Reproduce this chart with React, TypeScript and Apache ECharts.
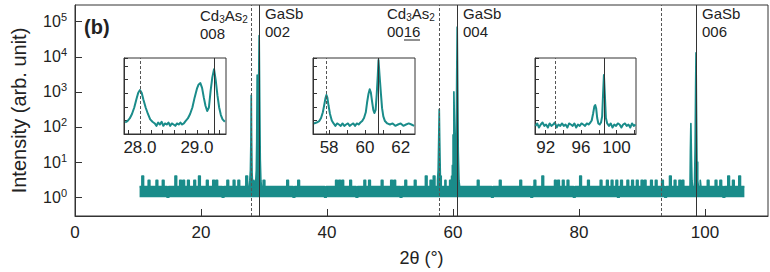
import React, { useEffect, useRef } from "react";
import * as echarts from "echarts";

const FONT = "Liberation Sans, Arial, Helvetica, sans-serif";
const TEAL = "#1a8c8a";
const INK = "#222";

// Reference line positions (2θ, degrees)
const cd3as2Lines = [28.0, 57.85, 93.05];
const gasbLines = [29.3, 60.75, 98.6];

// Main scan: uniformly stepped baseline segments (counts) + peak regions ([2θ, counts])
const SCAN_STEP = 0.25;
const segAStart = 10.25;
const segA = [2,2,4,2,2,2,3,2,2,2, 2,3,2,2,2,3,2,2,1,2, 2,2,2,4,2,2,3,2,3,2, 2,3,2,2,2,3,2,2,4,2, 2,2,2,3,2,2,2,3,2,3, 2,2,2,1,2,2,3,2,2,2, 3,2,2,3,2,2,2,2,4,2];
const peak1 = [[27.6,2],[27.7,2],[27.8,3],[27.9,6],[27.95,40],[28.0,800],[28.05,60],[28.15,5],[28.25,2],[28.35,2],[28.45,3],[28.55,2],[28.65,2],[28.75,3],[28.82,6],[28.88,40],[28.95,3000],[29.02,150],[29.1,30],[29.18,900],[29.28,40000],[29.36,500],[29.45,12],[29.55,3],[29.65,2]];
const segBStart = 29.75;
const segB = [2,3,2,2,2,2,2,2,2,2, 2,2,2,2,2,2,3,2,2,2, 1,2,2,3,2,2,2,2,2,2, 2,2,2,2,2,2,2,2,2,2, 1,2,2,2,2,2,2,3,2,3, 2,3,2,2,2,2,3,2,2,2, 1,2,2,2,2,3,2,2,3,2, 2,2,2,2,2,2,3,2,2,2, 2,2,3,2,3,2,2,2,1,2, 2,3,2,2,2,2,2,3,2,2, 2,2,2,2,4,2,2,3,2,4, 2];
const peak2 = [[57.4,2],[57.5,2],[57.6,3],[57.7,6],[57.78,50],[57.85,320],[57.93,40],[58.05,4],[58.2,2],[58.35,2],[58.5,2],[58.65,2],[58.8,3],[58.95,2],[59.1,2],[59.25,2],[59.4,2],[59.55,3],[59.7,2],[59.85,4],[59.95,8],[60.08,60],[60.2,1000],[60.3,80],[60.4,6],[60.48,4],[60.56,30],[60.63,3000],[60.7,70000],[60.78,2000],[60.88,20],[61.0,3],[61.1,2]];
const segCStart = 61.25;
const segC = [2,2,2,2,2,2,2,2,2,2, 2,3,2,2,2,2,2,2,2,2, 1,2,2,2,2,3,2,2,2,2, 2,2,2,2,2,2,2,2,3,2, 2,2,2,2,2,1,2,3,2,2, 2,2,4,2,2,2,2,2,2,2, 3,2,3,2,2,3,2,2,3,2, 2,2,1,2,2,2,4,2,2,2, 2,3,2,2,2,2,2,2,2,3, 2,2,2,3,2,2,3,2,2,3, 1,2,3,2,2,2,3,2,2,3, 2,2,3,2,2,3,2,3,2,2, 2,3,2,2,3,2,2,2,3,2, 1,2,2,4,2,2,3,2,2,3, 2,3,2,2,2,2];
const peak3 = [[97.6,2],[97.65,2],[97.72,20],[97.8,125],[97.88,15],[97.98,3],[98.1,2],[98.2,2],[98.3,2],[98.4,3],[98.48,30],[98.55,1200],[98.6,13000],[98.67,500],[98.78,10],[98.9,3],[99.0,2],[99.1,2],[99.2,2],[99.3,3],[99.4,2]];
const segDStart = 99.5;
const segD = [2,2,2,2,3,2,2,2,2,3, 2,2,3,2,1,2,2,4,2,2, 3,2,2,2,4,2,2,2];

// Insets ([2θ, counts])
const inset1 = [[27.74,7],[27.78,9],[27.82,14],[27.86,30],[27.9,90],[27.94,400],[27.97,1100],[28.0,1700],[28.03,1100],[28.06,350],[28.1,90],[28.14,30],[28.18,12],[28.22,8],[28.26,6],[28.29,4],[28.32,7],[28.35,5],[28.38,8],[28.41,4],[28.44,6],[28.47,5],[28.5,7],[28.53,4],[28.56,6],[28.59,5],[28.62,4],[28.65,6],[28.68,5],[28.71,7],[28.74,5],[28.77,6],[28.8,9],[28.84,14],[28.88,30],[28.92,90],[28.96,500],[29.0,2200],[29.03,4500],[29.06,5600],[29.09,2500],[29.12,500],[29.15,120],[29.18,50],[29.21,90],[29.24,1500],[29.27,15000],[29.3,60000],[29.33,9000],[29.36,700],[29.39,90],[29.42,25],[29.45,12],[29.49,8]];
const inset2 = [[57.15,6],[57.3,7],[57.45,9],[57.55,15],[57.65,40],[57.72,120],[57.8,450],[57.85,740],[57.9,500],[57.97,120],[58.05,30],[58.15,10],[58.25,6],[58.35,4],[58.45,6],[58.55,5],[58.65,4],[58.75,6],[58.85,4],[58.95,5],[59.05,6],[59.15,4],[59.25,5],[59.35,6],[59.45,4],[59.55,6],[59.65,5],[59.75,7],[59.85,9],[59.95,15],[60.05,40],[60.12,200],[60.2,900],[60.27,2000],[60.33,1200],[60.4,250],[60.47,60],[60.53,35],[60.6,60],[60.66,800],[60.72,20000],[60.76,280000],[60.82,20000],[60.9,800],[60.96,80],[61.03,20],[61.12,9],[61.25,6],[61.4,5],[61.55,6],[61.7,4],[61.85,5],[62.0,6],[62.15,4],[62.3,5],[62.45,6],[62.6,5],[62.75,4]];
const inset3 = [[90.85,4],[91.05,6],[91.25,3],[91.45,5],[91.65,7],[91.85,4],[92.05,5],[92.25,3],[92.45,6],[92.65,4],[92.85,5],[93.05,7],[93.25,3],[93.45,5],[93.65,4],[93.85,6],[94.05,4],[94.25,5],[94.45,3],[94.65,6],[94.85,5],[95.05,4],[95.25,6],[95.45,3],[95.65,5],[95.85,4],[96.05,6],[96.25,5],[96.45,4],[96.65,6],[96.85,5],[97.05,7],[97.2,10],[97.35,30],[97.5,110],[97.6,135],[97.7,80],[97.82,15],[97.95,6],[98.1,5],[98.25,7],[98.38,20],[98.48,800],[98.58,22000],[98.68,900],[98.8,15],[98.95,6],[99.15,4],[99.35,6],[99.55,3],[99.75,5],[99.95,4],[100.15,6],[100.35,5],[100.55,3],[100.75,5],[100.95,6],[101.15,4],[101.35,5],[101.55,3],[101.75,6],[101.95,4],[102.15,5]];

const inset1Range = [27.72, 29.51];
const inset2Range = [57.1, 62.8];
const inset3Range = [90.8, 102.2];
const inset1Ticks = [27.8, 28.0, 28.2, 28.4, 28.6, 28.8, 29.0, 29.2, 29.4];
const inset2Ticks = [58, 59, 60, 61, 62];
const inset3Ticks = [92, 94, 96, 98, 100, 102];
const inset1Labels = [28, 29];
const inset2Labels = [58, 60, 62];
const inset3Labels = [92, 96, 100];

// lowest count level of the scan (band floor)
const COUNT_FLOOR = 1;

function seg(start: number, counts: number[]) {
  return counts.map((c, i) => [+(start + i * SCAN_STEP).toFixed(3), c]);
}

function refLines(range?: number[]) {
  const inR = (x: number) => !range || (x > range[0] && x < range[1]);
  return {
    silent: true,
    symbol: ["none", "none"],
    label: { show: false },
    emphasis: { disabled: true },
    data: [
      ...cd3as2Lines.filter(inR).map((x) => ({ xAxis: x, lineStyle: { type: [3, 2], color: "#555", width: 1 } })),
      ...gasbLines.filter(inR).map((x) => ({ xAxis: x, lineStyle: { type: "solid", color: "#333", width: 1 } })),
    ],
  };
}

const RICH_ANN = {
  n: { fontSize: 15, lineHeight: 18, fontFamily: FONT, fill: INK },
  s: { fontSize: 10, lineHeight: 10, fontFamily: FONT, fill: INK, verticalAlign: "bottom" },
};

function annot(left: number, top: number, text: string) {
  return { type: "text", left, top, silent: true, style: { text, rich: RICH_ANN, fill: INK, fontSize: 15, fontFamily: FONT } };
}

export default function App() {
  const ref = useRef<HTMLDivElement>(null);
  useEffect(() => {
    if (!ref.current) return;
    const chart = echarts.init(ref.current, null, { renderer: "svg" });
    const mainData = [
      ...seg(segAStart, segA), ...peak1,
      ...seg(segBStart, segB), ...peak2,
      ...seg(segCStart, segC), ...peak3,
      ...seg(segDStart, segD),
    ];
    const axisLineStyle = { color: "#333", width: 1 };
    const insetX = (gridIndex: number, range: number[], ticks: number[], labels: number[], dec: number) => ({
      gridIndex, type: "value", min: range[0], max: range[1],
      axisLine: { show: true, lineStyle: axisLineStyle },
      axisTick: { show: true, inside: true, length: 4, lineStyle: axisLineStyle, customValues: ticks },
      axisLabel: { show: true, customValues: labels, formatter: (v: number) => v.toFixed(dec), fontSize: 17, color: INK, fontFamily: FONT, margin: 5 },
      splitLine: { show: false },
    });
    const insetY = (gridIndex: number) => ({
      gridIndex, type: "log", logBase: 10, min: 1, max: 4e5,
      axisLine: { show: true, lineStyle: axisLineStyle },
      axisTick: { show: true, inside: true, length: 4, lineStyle: axisLineStyle },
      axisLabel: { show: false },
      splitLine: { show: false },
    });
    const lineSeries = (idx: number, data: number[][], width: number, range?: number[]) => ({
      type: "line", xAxisIndex: idx, yAxisIndex: idx, data,
      symbol: "none", showSymbol: false, silent: true,
      lineStyle: { color: TEAL, width, join: "round" },
      markLine: refLines(range), z: 3,
    });
    chart.setOption({
      animation: false,
      backgroundColor: "#fff",
      textStyle: { fontFamily: FONT },
      grid: [
        { left: 75, right: 2, top: 5, bottom: 54, show: true, borderColor: "#333", borderWidth: 1 },
        { left: 124, top: 58, width: 102, height: 76, show: true, borderColor: "#333", borderWidth: 1 },
        { left: 313, top: 58, width: 102, height: 76, show: true, borderColor: "#333", borderWidth: 1 },
        { left: 535, top: 58, width: 101, height: 76, show: true, borderColor: "#333", borderWidth: 1 },
      ],
      xAxis: [
        {
          gridIndex: 0, type: "value", min: 0, max: 110, interval: 20,
          axisLine: { show: true, lineStyle: axisLineStyle },
          axisTick: { show: true, inside: true, length: 7, lineStyle: axisLineStyle },
          axisLabel: { fontSize: 17, color: INK, fontFamily: FONT, margin: 8, showMaxLabel: false },
          splitLine: { show: false },
          name: "2θ (°)", nameLocation: "middle", nameGap: 33,
          nameTextStyle: { fontSize: 18, color: INK, fontFamily: FONT },
        },
        insetX(1, inset1Range, inset1Ticks, inset1Labels, 1),
        insetX(2, inset2Range, inset2Ticks, inset2Labels, 0),
        insetX(3, inset3Range, inset3Ticks, inset3Labels, 0),
      ],
      yAxis: [
        {
          gridIndex: 0, type: "log", logBase: 10, min: 0.29, max: 3e5,
          axisLine: { show: true, lineStyle: axisLineStyle },
          axisTick: { show: true, inside: true, length: 7, lineStyle: axisLineStyle },
          axisLabel: {
            margin: 8, showMinLabel: false, showMaxLabel: false,
            formatter: (v: number) => `{b|10}{s|${Math.round(Math.log10(v))}}`,
            rich: {
              b: { fontSize: 16, lineHeight: 20, color: INK, fontFamily: FONT },
              s: { fontSize: 11, lineHeight: 8, verticalAlign: "top", color: INK, fontFamily: FONT },
            },
          },
          splitLine: { show: false },
          name: "Intensity (arb. unit)", nameLocation: "middle", nameGap: 46,
          nameTextStyle: { fontSize: 20, color: INK, fontFamily: FONT },
        },
        insetY(1), insetY(2), insetY(3),
      ],
      series: [
        { ...lineSeries(0, mainData, 1.7), step: "middle", areaStyle: { origin: COUNT_FLOOR, color: TEAL, opacity: 1 } },
        lineSeries(1, inset1, 2, inset1Range),
        lineSeries(2, inset2, 2, inset2Range),
        lineSeries(3, inset3, 2, inset3Range),
      ],
      graphic: [
        { type: "text", left: 84, top: 17, silent: true, style: { text: "(b)", fontSize: 20, fontWeight: "bold", fontFamily: FONT, fill: INK } },
        annot(200, 8, "{n|Cd}{s|3}{n|As}{s|2}\n{n|008}"),
        annot(265, 6, "{n|GaSb}\n{n|002}"),
        annot(387, 6, "{n|Cd}{s|3}{n|As}{s|2}\n{n|0016}"),
        annot(463, 6, "{n|GaSb}\n{n|004}"),
        annot(702, 6, "{n|GaSb}\n{n|006}"),
        { type: "line", silent: true, shape: { x1: 404, y1: 40, x2: 420, y2: 40 }, style: { stroke: INK, lineWidth: 1 } },
      ],
    });
    return () => chart.dispose();
  }, []);
  return <div ref={ref} style={{ position: "fixed", left: 0, top: 0, width: 770, height: 272, background: "#fff" }} />;
}
